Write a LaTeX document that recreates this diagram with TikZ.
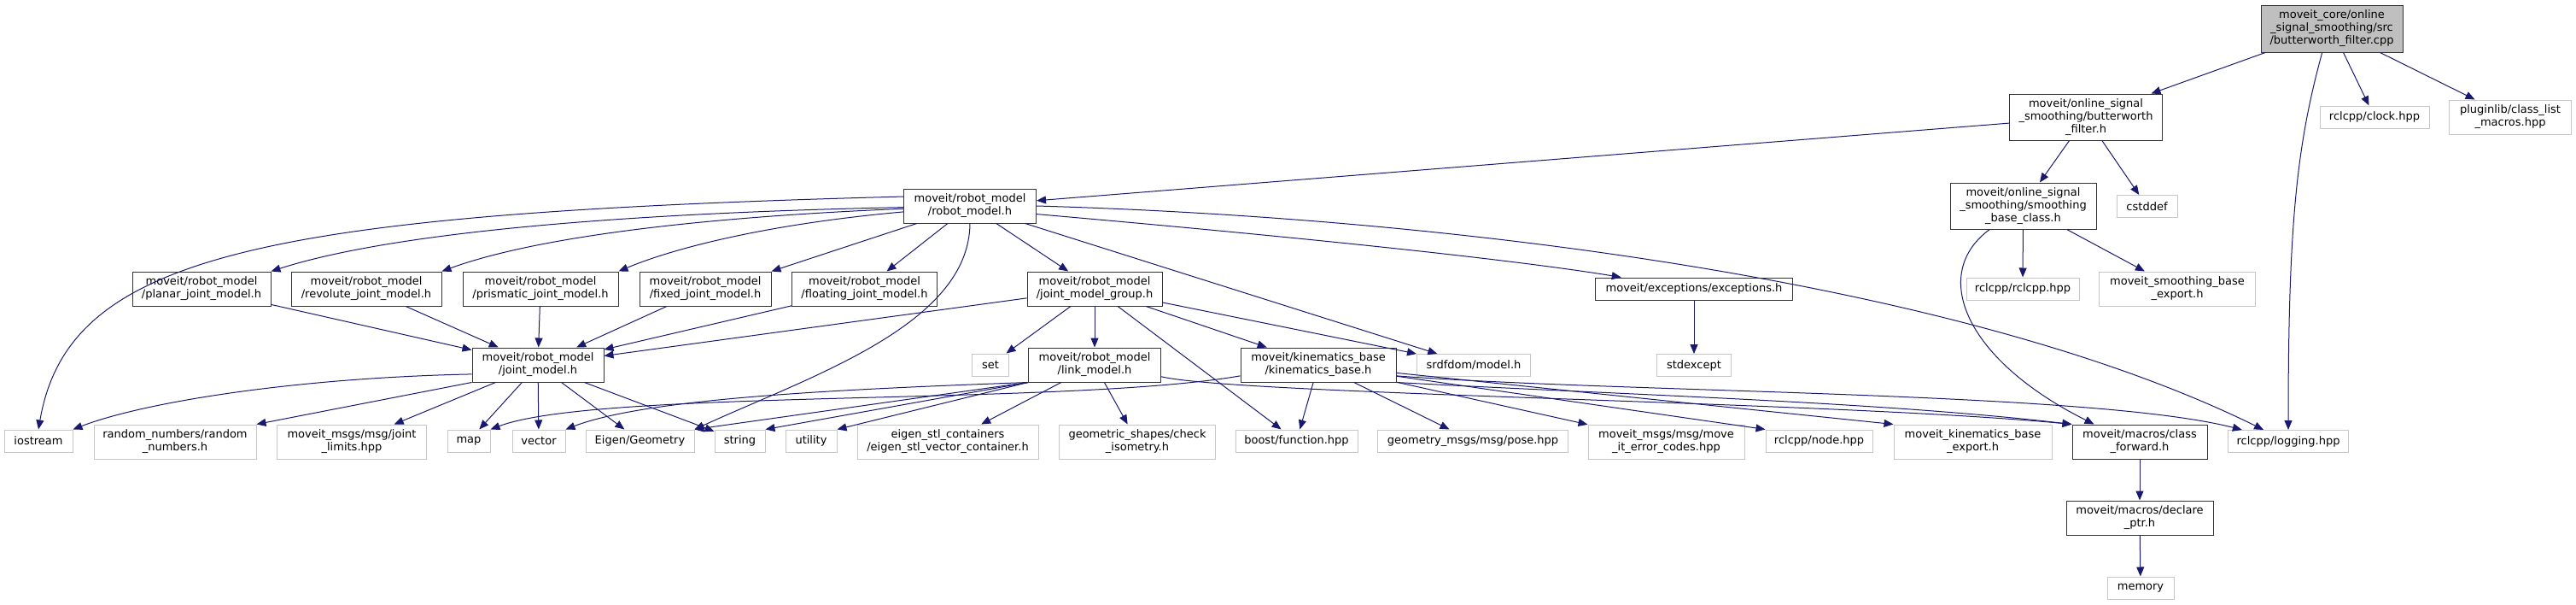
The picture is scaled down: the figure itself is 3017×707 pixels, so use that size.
\documentclass[tikz,border=0pt]{standalone}
\usepackage{fontspec}
\setmainfont{DejaVu Sans}
\usetikzlibrary{arrows.meta}
\definecolor{edgeblue}{HTML}{191970}

\begin{document}
\begin{tikzpicture}[x=1pt, y=-1pt,
  hdr/.style={draw=black!80, fill=white, line width=1pt, align=center, inner sep=1pt,
    font=\fontsize{13}{15}\selectfont, minimum height=40pt},
  sys/.style={hdr, draw=black!22},
  oneline/.style={minimum height=26pt},
  edge/.style={draw=edgeblue, line width=1pt, -{Triangle[length=11pt,width=9pt]}}]
\useasboundingbox (0,0) rectangle (3017,707);

% source file and its direct includes
\node[hdr, fill=black!25, minimum width=166pt, minimum height=55pt] (src) at (2731,33.5) {moveit\_core/online\\\_signal\_smoothing/src\\/butterworth\_filter.cpp};
\node[hdr, minimum width=179pt, minimum height=54pt] (bwh) at (2443,137) {moveit/online\_signal\\\_smoothing/butterworth\\\_filter.h};
\node[sys, oneline, minimum width=128pt] (clock) at (2781,137) {rclcpp/clock.hpp};
\node[sys, minimum width=143pt] (plugin) at (2940,137) {pluginlib/class\_list\\\_macros.hpp};

% second level
\node[hdr, minimum width=155pt] (rm) at (1136,241) {moveit/robot\_model\\/robot\_model.h};
\node[hdr, minimum width=171pt, minimum height=54pt] (sbc) at (2369.5,241) {moveit/online\_signal\\\_smoothing/smoothing\\\_base\_class.h};
\node[sys, oneline, minimum width=71pt] (cstddef) at (2514.5,241.5) {cstddef};

% third level
\node[hdr, minimum width=158pt] (jmg) at (1282,338) {moveit/robot\_model\\/joint\_model\_group.h};
\node[hdr, oneline, minimum width=231pt] (exc) at (1984,338) {moveit/exceptions/exceptions.h};
\node[sys, oneline, minimum width=132pt] (rclcpp) at (2369,338) {rclcpp/rclcpp.hpp};
\node[sys, minimum width=183pt] (sbexp) at (2550,338) {moveit\_smoothing\_base\\\_export.h};

% fourth level
\node[hdr, minimum width=154pt] (jm) at (630,427) {moveit/robot\_model\\/joint\_model.h};
\node[sys, oneline, minimum width=43pt] (set) at (1160,427) {set};
\node[hdr, minimum width=155pt] (lm) at (1282,427) {moveit/robot\_model\\/link\_model.h};
\node[hdr, minimum width=182pt] (kb) at (1544,427) {moveit/kinematics\_base\\/kinematics\_base.h};
\node[sys, oneline, minimum width=133pt] (srdf) at (1726,427.5) {srdfdom/model.h};
\node[sys, oneline, minimum width=87pt] (stdexc) at (1984,427.5) {stdexcept};

% leaves
\node[sys, oneline, minimum width=80pt] (iostream) at (45,516) {iostream};
\node[sys, minimum width=190pt] (random) at (205,517) {random\_numbers/random\\\_numbers.h};
\node[sys, minimum width=175pt] (jlim) at (412,517) {moveit\_msgs/msg/joint\\\_limits.hpp};
\node[sys, oneline, minimum width=50pt] (map) at (549,516) {map};
\node[sys, oneline, minimum width=62pt] (vector) at (631,516) {vector};
\node[sys, oneline, minimum width=127pt] (eigen) at (749.5,516) {Eigen/Geometry};
\node[sys, oneline, minimum width=59pt] (string) at (866.5,516) {string};
\node[sys, oneline, minimum width=60pt] (utility) at (950,516) {utility};
\node[sys, minimum width=212pt] (estl) at (1110,517) {eigen\_stl\_containers\\/eigen\_stl\_vector\_container.h};
\node[sys, minimum width=183pt] (geom) at (1332,517) {geometric\_shapes/check\\\_isometry.h};
\node[sys, oneline, minimum width=143pt] (boost) at (1518.5,516) {boost/function.hpp};
\node[sys, oneline, minimum width=223pt] (pose) at (1725,516) {geometry\_msgs/msg/pose.hpp};
\node[sys, minimum width=183pt] (errc) at (1951.5,517) {moveit\_msgs/msg/move\\\_it\_error\_codes.hpp};
\node[sys, oneline, minimum width=125pt] (rnode) at (2130.5,516) {rclcpp/node.hpp};
\node[sys, minimum width=185pt] (kbexp) at (2310.5,517) {moveit\_kinematics\_base\\\_export.h};
\node[hdr, minimum width=158pt] (cfwd) at (2506,517) {moveit/macros/class\\\_forward.h};
\node[sys, oneline, minimum width=141pt] (logging) at (2680,516.5) {rclcpp/logging.hpp};
\node[hdr, minimum width=172pt] (decl) at (2506,606) {moveit/macros/declare\\\_ptr.h};
\node[sys, oneline, minimum width=78pt] (memory) at (2507,688) {memory};

% joint model types
\foreach \j/\x/\w in {planar/236/162, revolute/429/176, prismatic/633/182, fixed/826/154, floating/1012.5/170} {
  \node[hdr, minimum width=\w pt] (\j) at (\x,338) {moveit/robot\_model\\/\j\_joint\_model.h};
  \draw[edge] (\j) -- (jm);
}

% top level
\draw[edge] (src) -- (bwh);
\draw[edge] (src) -- (clock);
\draw[edge] (src) -- (plugin);
\draw[edge] (src.-112) .. controls (2690,170) and (2680,260) .. (logging.north);

% filter header
\draw[edge] (bwh) -- (rm);
\draw[edge] (bwh) -- (sbc);
\draw[edge] (bwh) -- (cstddef);

% smoothing base class
\draw[edge] (sbc) -- (rclcpp);
\draw[edge] (sbc) -- (sbexp);
\draw[edge] (sbc.-145) .. controls (2260,320) and (2300,420) .. (cfwd.159);

% robot model
\draw[edge] (rm.172) .. controls (300,250) and (80,300) .. (iostream.north);
\draw[edge] (rm) .. controls (700,250) and (450,275) .. (planar.north east);
\draw[edge] (rm) .. controls (800,255) and (620,280) .. (revolute.north east);
\draw[edge] (rm) .. controls (900,262) and (790,290) .. (prismatic.north east);
\draw[edge] (rm) -- (fixed.north east);
\draw[edge] (rm) -- (floating);
\draw[edge] (rm) -- (jmg);
\draw[edge] (rm.south) .. controls (1135,380) and (950,440) .. (eigen.north east);
\draw[edge] (rm) -- (srdf);
\draw[edge] (rm.-7) .. controls (1550,280) and (1780,305) .. (exc.171);
\draw[edge] (rm.east) .. controls (1700,255) and (2300,330) .. (logging.155);

% joint model group
\draw[edge] (jmg) -- (jm);
\draw[edge] (jmg) -- (set);
\draw[edge] (jmg) -- (lm);
\draw[edge] (jmg) -- (kb);
\draw[edge] (jmg) -- (srdf);
\draw[edge] (jmg) -- (boost);

% joint model
\draw[edge] (jm.-172) .. controls (350,442) and (170,470) .. (iostream.north east);
\draw[edge] (jm.south west) -- (random.north east);
\draw[edge] (jm) -- (jlim);
\draw[edge] (jm) -- (map);
\draw[edge] (jm) -- (vector);
\draw[edge] (jm) -- (eigen);
\draw[edge] (jm) -- (string);

% link model
\draw[edge] (lm.south west) .. controls (1000,455) and (760,465) .. (vector.north east);
\draw[edge] (lm.south west) -- (eigen.north east);
\draw[edge] (lm.south west) -- (string.north east);
\draw[edge] (lm.south west) -- (utility.north east);
\draw[edge] (lm) -- (estl);
\draw[edge] (lm) -- (geom);
\draw[edge] (lm.-10) .. controls (1450,462) and (2150,470) .. (cfwd.north west);

% kinematics base
\draw[edge] (kb.-172) .. controls (1250,475) and (700,455) .. (map.north east);
\draw[edge] (kb) -- (boost);
\draw[edge] (kb) -- (pose);
\draw[edge] (kb) -- (errc);
\draw[edge] (kb) -- (rnode.north west);
\draw[edge] (kb) -- (kbexp.north west);
\draw[edge] (kb.south east) .. controls (1900,462) and (2200,470) .. (cfwd.north west);
\draw[edge] (kb.-8) .. controls (1900,460) and (2450,458) .. (logging.166);

% the rest
\draw[edge] (exc) -- (stdexc);
\draw[edge] (cfwd) -- (decl);
\draw[edge] (decl) -- (memory);

\end{tikzpicture}
\end{document}
